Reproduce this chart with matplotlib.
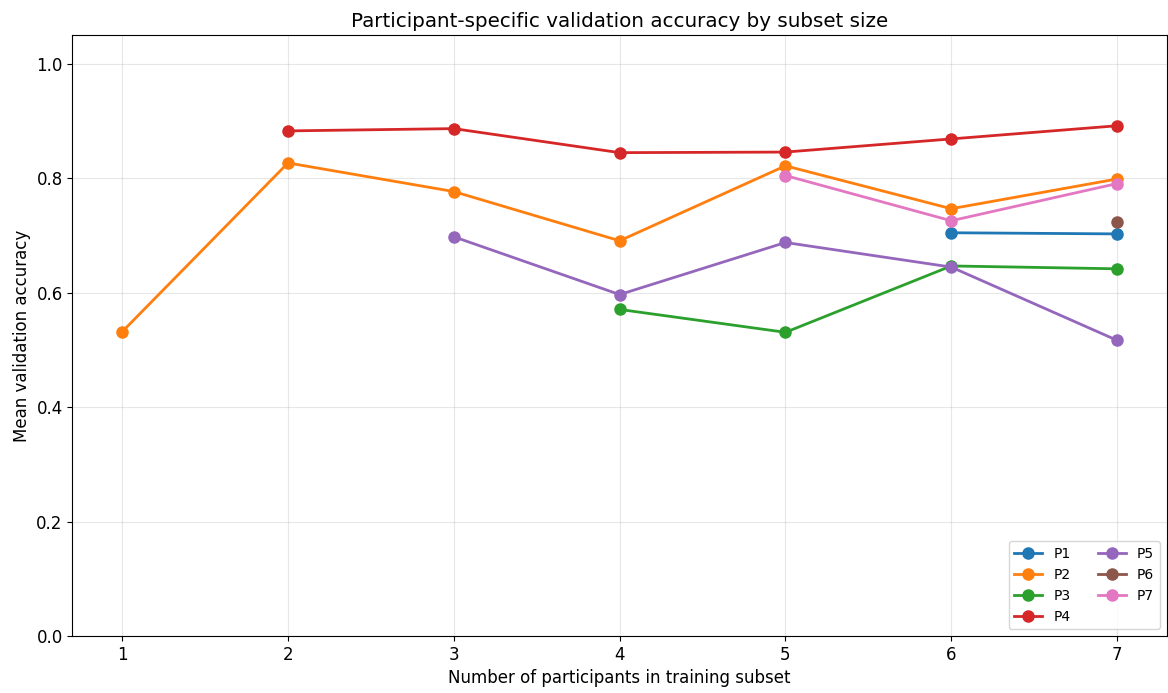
import numpy as np
import matplotlib
matplotlib.use("Agg")
import matplotlib.pyplot as plt

subset_sizes = [1, 2, 3, 4, 5, 6, 7]
nan = np.nan

# mean validation accuracy per participant, NaN where not evaluated
p1 = [nan, nan, nan, nan, nan, 0.705, 0.703]
p2 = [0.532, 0.827, 0.777, 0.691, 0.822, 0.747, 0.799]
p3 = [nan, nan, nan, 0.571, 0.531, 0.647, 0.642]
p4 = [nan, 0.883, 0.887, 0.845, 0.846, 0.869, 0.892]
p5 = [nan, nan, 0.698, 0.597, 0.688, 0.645, 0.517]
p6 = [nan, nan, nan, nan, nan, nan, 0.723]
p7 = [nan, nan, nan, nan, 0.805, 0.726, 0.791]

series = {"P1": p1, "P2": p2, "P3": p3, "P4": p4, "P5": p5, "P6": p6, "P7": p7}

fig, ax = plt.subplots(figsize=(11.68, 6.93), dpi=100)

for name, vals in series.items():
    ax.plot(subset_sizes, vals, marker="o", markersize=8, linewidth=2, label=name)

ax.set_ylim(0, 1.05)
ax.set_xticks(subset_sizes)
ax.tick_params(labelsize=12)
ax.set_xlabel("Number of participants in training subset", fontsize=12)
ax.set_ylabel("Mean validation accuracy", fontsize=12)
ax.set_title("Participant-specific validation accuracy by subset size", fontsize=14.3)
ax.grid(True, alpha=0.3)
ax.legend(loc="lower right", ncol=2, fontsize=10)

fig.subplots_adjust(left=0.062, right=0.999, top=0.949, bottom=0.082)
fig.savefig("out.png", dpi=100)
